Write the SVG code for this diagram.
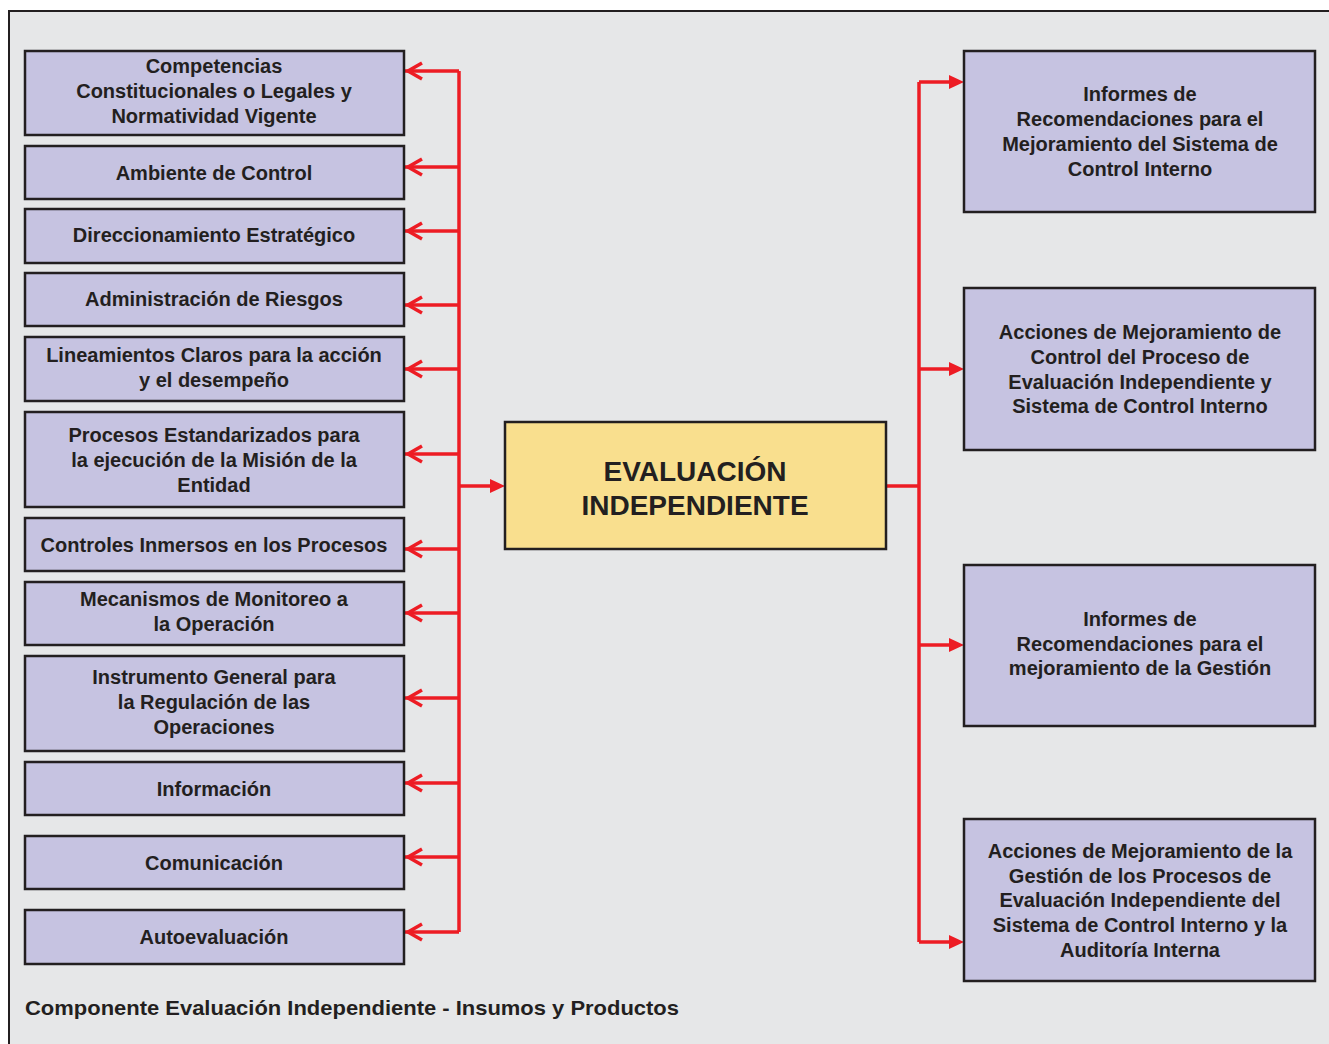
<svg xmlns="http://www.w3.org/2000/svg" width="1329" height="1044" viewBox="0 0 1329 1044">
<style>
.bg{fill:#e6e7e8;stroke:#231f20;stroke-width:2}
.box{fill:#c6c3e1;stroke:#231f20;stroke-width:2.5}
.main{fill:#f9df8e;stroke:#231f20;stroke-width:2.5}
.t{font-family:"Liberation Sans",Arial,sans-serif;font-weight:bold;font-size:20px;fill:#231f20;text-anchor:middle}
.big{font-size:28px}
.cap{font-family:"Liberation Sans",Arial,sans-serif;font-weight:bold;font-size:21px;fill:#231f20}
.ln{fill:none;stroke:#ed1c24;stroke-width:3.5}
</style>
<defs>
<marker id="open" markerUnits="userSpaceOnUse" viewBox="-18 -11 22 22" markerWidth="22" markerHeight="22" refX="4" refY="0" orient="auto">
<path d="M-14,-8 L0,0 L-14,8" fill="none" stroke="#ed1c24" stroke-width="3.5"/>
</marker>
<marker id="fill" markerUnits="userSpaceOnUse" viewBox="0 -8 16 16" markerWidth="16" markerHeight="16" refX="10" refY="0" orient="auto">
<path d="M0,-7 L15,0 L0,7 Z" fill="#ed1c24"/>
</marker>
</defs>
<rect class="bg" x="9" y="11" width="1330" height="1045"/>

<g id="connectors">
<path class="ln" d="M459,71 V932"/>
<path class="ln" d="M459,71 H404" marker-end="url(#open)"/>
<path class="ln" d="M459,167 H404" marker-end="url(#open)"/>
<path class="ln" d="M459,231 H404" marker-end="url(#open)"/>
<path class="ln" d="M459,305 H404" marker-end="url(#open)"/>
<path class="ln" d="M459,369 H404" marker-end="url(#open)"/>
<path class="ln" d="M459,454 H404" marker-end="url(#open)"/>
<path class="ln" d="M459,549 H404" marker-end="url(#open)"/>
<path class="ln" d="M459,613 H404" marker-end="url(#open)"/>
<path class="ln" d="M459,698 H404" marker-end="url(#open)"/>
<path class="ln" d="M459,783 H404" marker-end="url(#open)"/>
<path class="ln" d="M459,857 H404" marker-end="url(#open)"/>
<path class="ln" d="M459,932 H404" marker-end="url(#open)"/>
<path class="ln" d="M459,486 H500" marker-end="url(#fill)"/>
<path class="ln" d="M886,486 H919"/>
<path class="ln" d="M919,82 V942"/>
<path class="ln" d="M919,82 H959" marker-end="url(#fill)"/>
<path class="ln" d="M919,369 H959" marker-end="url(#fill)"/>
<path class="ln" d="M919,645 H959" marker-end="url(#fill)"/>
<path class="ln" d="M919,942 H959" marker-end="url(#fill)"/>
</g>

<g id="n1"><rect class="box" x="25" y="51" width="379" height="84"/>
<text class="t" x="214" y="73">Competencias</text><text class="t" x="214" y="98">Constitucionales o Legales y</text><text class="t" x="214" y="123">Normatividad Vigente</text></g>
<g id="n2"><rect class="box" x="25" y="146" width="379" height="53"/>
<text class="t" x="214" y="180">Ambiente de Control</text></g>
<g id="n3"><rect class="box" x="25" y="209" width="379" height="54"/>
<text class="t" x="214" y="242">Direccionamiento Estratégico</text></g>
<g id="n4"><rect class="box" x="25" y="273" width="379" height="53"/>
<text class="t" x="214" y="306">Administración de Riesgos</text></g>
<g id="n5"><rect class="box" x="25" y="337" width="379" height="64"/>
<text class="t" x="214" y="362">Lineamientos Claros para la acción</text><text class="t" x="214" y="387">y el desempeño</text></g>
<g id="n6"><rect class="box" x="25" y="412" width="379" height="95"/>
<text class="t" x="214" y="442">Procesos Estandarizados para</text><text class="t" x="214" y="467">la ejecución de la Misión de la</text><text class="t" x="214" y="492">Entidad</text></g>
<g id="n7"><rect class="box" x="25" y="518" width="379" height="53"/>
<text class="t" x="214" y="552">Controles Inmersos en los Procesos</text></g>
<g id="n8"><rect class="box" x="25" y="582" width="379" height="63"/>
<text class="t" x="214" y="606">Mecanismos de Monitoreo a</text><text class="t" x="214" y="631">la Operación</text></g>
<g id="n9"><rect class="box" x="25" y="656" width="379" height="95"/>
<text class="t" x="214" y="684">Instrumento General para</text><text class="t" x="214" y="709">la Regulación de las</text><text class="t" x="214" y="734">Operaciones</text></g>
<g id="n10"><rect class="box" x="25" y="762" width="379" height="53"/>
<text class="t" x="214" y="796">Información</text></g>
<g id="n11"><rect class="box" x="25" y="836" width="379" height="53"/>
<text class="t" x="214" y="870">Comunicación</text></g>
<g id="n12"><rect class="box" x="25" y="910" width="379" height="54"/>
<text class="t" x="214" y="944">Autoevaluación</text></g>

<g id="center"><rect class="main" x="505" y="422" width="381" height="127"/>
<text class="t big" x="695" y="481">EVALUACIÓN</text><text class="t big" x="695" y="515">INDEPENDIENTE</text></g>

<g id="r1"><rect class="box" x="964" y="51" width="351" height="161"/>
<text class="t" x="1140" y="101">Informes de</text><text class="t" x="1140" y="126">Recomendaciones para el</text><text class="t" x="1140" y="151">Mejoramiento del Sistema de</text><text class="t" x="1140" y="176">Control Interno</text></g>
<g id="r2"><rect class="box" x="964" y="288" width="351" height="162"/>
<text class="t" x="1140" y="339">Acciones de Mejoramiento de</text><text class="t" x="1140" y="364">Control del Proceso de</text><text class="t" x="1140" y="389">Evaluación Independiente y</text><text class="t" x="1140" y="413">Sistema de Control Interno</text></g>
<g id="r3"><rect class="box" x="964" y="565" width="351" height="161"/>
<text class="t" x="1140" y="626">Informes de</text><text class="t" x="1140" y="651">Recomendaciones para el</text><text class="t" x="1140" y="675">mejoramiento de la Gestión</text></g>
<g id="r4"><rect class="box" x="964" y="819" width="351" height="162"/>
<text class="t" x="1140" y="858">Acciones de Mejoramiento de la</text><text class="t" x="1140" y="883">Gestión de los Procesos de</text><text class="t" x="1140" y="907">Evaluación Independiente del</text><text class="t" x="1140" y="932">Sistema de Control Interno y la</text><text class="t" x="1140" y="957">Auditoría Interna</text></g>

<text class="cap" x="25" y="1015" textLength="654" lengthAdjust="spacingAndGlyphs">Componente Evaluación Independiente - Insumos y Productos</text>
</svg>
